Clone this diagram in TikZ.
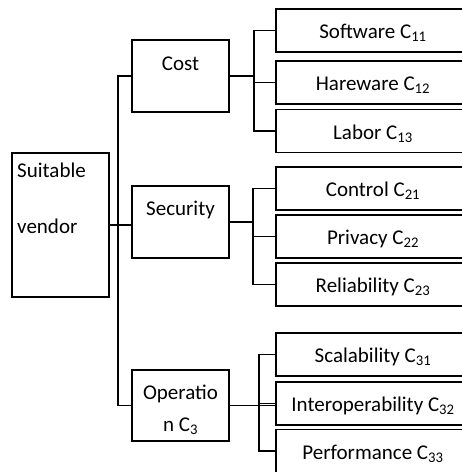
\documentclass[tikz,border=0pt]{standalone}
\usepackage{fontspec}
\setmainfont{Carlito}
\usepackage{tikz}
\usetikzlibrary{positioning,calc}
\tikzset{
  box/.style ={draw=black, line width=1.8pt, minimum width=97pt, inner sep=0pt},
  leaf/.style={draw=black, line width=1.8pt, minimum width=194pt, minimum height=43pt, inner sep=0pt, text height=17pt, text depth=1pt},
  lab/.style ={anchor=base, inner sep=0pt},
  edge/.style={line width=1.8pt},
}

\begin{document}
\begin{tikzpicture}[x=1pt, y=-1pt, font=\fontsize{21}{25}\selectfont]
  \useasboundingbox (0,0) rectangle (462,472);
  \clip (0,0) rectangle (462,472);
  \node[box, minimum height=144pt] (vendor) at (60.5,225) {};
  \node[lab, anchor=base west] (tsuit) at (17,177) {Suitable};
  \node[lab, anchor=base west] (tvend) at (17,233) {vendor};
  \node[box, minimum height=72pt] (cost) at (180.5,76) {};
  \node[lab] (tcost) at (180.5,70) {Cost};
  \node[box, minimum height=72pt] (sec) at (180.5,222) {};
  \node[lab] (tsec) at (180.5,215) {Security};
  \node[box, minimum height=71pt] (opr) at (180.5,405.5) {};
  \node[lab] (topr) at (180.5,399) {Operatio};
  \node[lab] (topr2) at (180.5,431) {n C\textsubscript{3}};
  \node[leaf] (soft)  at (373,30.5)  {Software C\textsubscript{11}};
  \node[leaf] (hare)  at (373,82.5)  {Hareware C\textsubscript{12}};
  \node[leaf] (labor) at (373,131)   {Labor C\textsubscript{13}};
  \node[leaf] (ctrl)  at (373,188.5) {Control C\textsubscript{21}};
  \node[leaf] (priv)  at (373,236.5) {Privacy C\textsubscript{22}};
  \node[leaf] (reli)  at (373,284.5) {Reliability C\textsubscript{23}};
  \node[leaf] (scal)  at (373,354.5) {Scalability C\textsubscript{31}};
  \node[leaf] (inter) at (373,403.5) {Interoperability C\textsubscript{32}};
  \node[leaf] (perf)  at (373,451)   {Performance C\textsubscript{33}};
  \draw[edge] (vendor.east) -- (vendor.east -| sec.west);
  \draw[edge] (cost.west) -- ++(-13,0) |- (opr.west);
  \draw[edge] (cost.east) -- ++(24,0) coordinate (c1);
  \draw[edge] (sec.east) -- ++(23,0) coordinate (c2);
  \draw[edge] (opr.east) -- ++(29,0) coordinate (c3) -- (opr.east -| inter.west);
  \foreach \n in {soft,hare,labor} \draw[edge] (c1) |- (\n.west);
  \foreach \n in {ctrl,priv,reli} \draw[edge] (c2) |- (\n.west);
  \foreach \n in {scal,inter,perf} \draw[edge] (c3) |- (\n.west);
\end{tikzpicture}
\end{document}
